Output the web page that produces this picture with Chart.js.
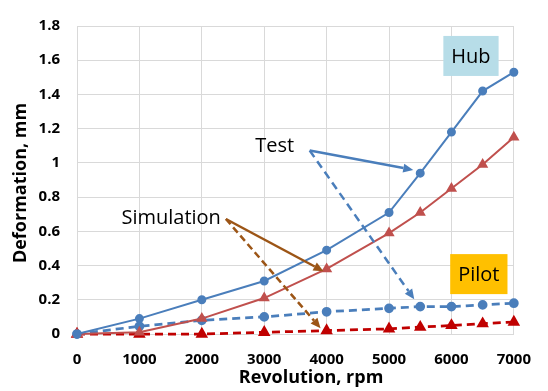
<!DOCTYPE html>
<html>
<head>
<meta charset="utf-8">
<script src="https://cdn.jsdelivr.net/npm/chart.js@4/dist/chart.umd.min.js"></script>
<style>
  body { margin: 0; background: #ffffff; }
  #myChart { display: block; }
</style>
</head>
<body>
<canvas id="myChart" width="548" height="391"></canvas>
<script>
// ********* DATA *********
const revolutions = [0, 1000, 2000, 3000, 4000, 5000, 5500, 6000, 6500, 7000];
const hubTest = [0, 0.09, 0.2, 0.31, 0.49, 0.71, 0.94, 1.18, 1.42, 1.53];
const hubSimulation = [0, 0.01, 0.09, 0.21, 0.38, 0.59, 0.71, 0.85, 0.99, 1.15];
const pilotTest = [0, 0.045, 0.08, 0.1, 0.13, 0.15, 0.16, 0.16, 0.17, 0.18];
const pilotSimulation = [0, 0, 0, 0.01, 0.02, 0.03, 0.04, 0.05, 0.06, 0.07];

const xTickLabels = ["0", "1000", "2000", "3000", "4000", "5000", "6000", "7000"];
const yTickLabels = ["0", "0.2", "0.4", "0.6", "0.8", "1", "1.2", "1.4", "1.6", "1.8"];

const xTitle = "Revolution, rpm";
const yTitle = "Deformation, mm";

// annotation anchors in data units (rpm, mm)
const labelTexts = [
  { text: "Test", x: 3168, y: 1.095 },
  { text: "Simulation", x: 1509, y: 0.677 },
];
const labelBoxes = [
  { text: "Hub", x: 6313, y: 1.625, fill: "#b7dde8" },
  { text: "Pilot", x: 6439, y: 0.35, fill: "#ffc000" },
];
const arrows = [
  { from: [3729, 1.072], to: [5388, 0.959], color: "#4a7ebb", dash: [] },
  { from: [3729, 1.072], to: [5404, 0.203], color: "#4a7ebb", dash: [8, 5] },
  { from: [2386, 0.672], to: [3950, 0.367], color: "#9c5516", dash: [] },
  { from: [2386, 0.672], to: [3903, 0.034], color: "#9c5516", dash: [7, 4] },
];

const toPoints = (values) => values.map((v, i) => ({ x: revolutions[i], y: v }));

const blue = "#4a7ebb";
const redLight = "#c0504d";
const redDark = "#c00000";
const gridColor = "#d9d9d9";
const fontFamily = "'Open Sans', 'DejaVu Sans', sans-serif";

// ********* ANNOTATIONS *********
const drawArrow = (ctx, x1, y1, x2, y2, color, dash) => {
  const angle = Math.atan2(y2 - y1, x2 - x1);
  const headLen = 10;
  const headHalf = 4.5;
  const bx = x2 - headLen * Math.cos(angle);
  const by = y2 - headLen * Math.sin(angle);
  ctx.save();
  ctx.strokeStyle = color;
  ctx.fillStyle = color;
  ctx.lineWidth = 2.5;
  ctx.setLineDash(dash);
  ctx.beginPath();
  ctx.moveTo(x1, y1);
  ctx.lineTo(bx, by);
  ctx.stroke();
  ctx.setLineDash([]);
  ctx.beginPath();
  ctx.moveTo(x2, y2);
  ctx.lineTo(bx + headHalf * Math.sin(angle), by - headHalf * Math.cos(angle));
  ctx.lineTo(bx - headHalf * Math.sin(angle), by + headHalf * Math.cos(angle));
  ctx.closePath();
  ctx.fill();
  ctx.restore();
};

const annotationPlugin = {
  id: "annotationPlugin",
  beforeDraw: (chart) => {
    const ctx = chart.ctx;
    ctx.save();
    ctx.fillStyle = "#ffffff";
    ctx.fillRect(0, 0, chart.width, chart.height);
    ctx.restore();
  },
  afterDraw: (chart) => {
    const ctx = chart.ctx;
    const xs = chart.scales.x;
    const ys = chart.scales.y;
    const area = chart.chartArea;

    arrows.forEach((a) => {
      drawArrow(
        ctx,
        xs.getPixelForValue(a.from[0]), ys.getPixelForValue(a.from[1]),
        xs.getPixelForValue(a.to[0]), ys.getPixelForValue(a.to[1]),
        a.color, a.dash
      );
    });

    ctx.save();
    ctx.font = "20px " + fontFamily;
    ctx.textAlign = "center";
    ctx.textBaseline = "middle";
    labelBoxes.forEach((b) => {
      const cx = xs.getPixelForValue(b.x);
      const cy = ys.getPixelForValue(b.y);
      const w = ctx.measureText(b.text).width + 16;
      ctx.fillStyle = b.fill;
      ctx.fillRect(cx - w / 2, cy - 20, w, 40);
      ctx.fillStyle = "#000000";
      ctx.fillText(b.text, cx, cy + 1);
    });
    labelTexts.forEach((t) => {
      ctx.fillStyle = "#000000";
      ctx.fillText(t.text, xs.getPixelForValue(t.x), ys.getPixelForValue(t.y));
    });

    // axis titles
    ctx.font = "bold 18px " + fontFamily;
    ctx.fillStyle = "#000000";
    ctx.fillText(xTitle, xs.getPixelForValue(3750), 378);
    ctx.translate(21, (area.top + area.bottom) / 2 + 3);
    ctx.rotate(-Math.PI / 2);
    ctx.fillText(yTitle, 0, 0);
    ctx.restore();
  },
};

// ********* CHART *********
const ctx = document.getElementById("myChart");

const myChartView = new Chart(ctx, {
  type: "line",
  data: {
    datasets: [
      {
        label: "Hub Test",
        data: toPoints(hubTest),
        borderColor: blue,
        backgroundColor: blue,
        borderWidth: 2,
        pointStyle: "circle",
        pointRadius: 3.5,
        clip: false,
      },
      {
        label: "Hub Simulation",
        data: toPoints(hubSimulation),
        borderColor: redLight,
        backgroundColor: redLight,
        borderWidth: 2,
        pointStyle: "triangle",
        pointRadius: 4.5,
        clip: false,
      },
      {
        label: "Pilot Test",
        data: toPoints(pilotTest),
        borderColor: blue,
        backgroundColor: blue,
        borderWidth: 2.75,
        borderDash: [8, 5],
        pointStyle: "circle",
        pointRadius: 3.5,
        clip: false,
      },
      {
        label: "Pilot Simulation",
        data: toPoints(pilotSimulation),
        borderColor: redDark,
        backgroundColor: redDark,
        borderWidth: 2.75,
        borderDash: [8, 5],
        pointStyle: "triangle",
        pointRadius: 4.5,
        clip: false,
      },
    ],
  },
  options: {
    responsive: false,
    animation: false,
    layout: {
      padding: { left: 0, top: 15, right: 28, bottom: 0 },
    },
    plugins: {
      legend: { display: false },
      tooltip: { enabled: false },
    },
    scales: {
      x: {
        type: "linear",
        min: 0,
        max: 7000,
        afterFit: (scale) => {
          scale.height = 57;
        },
        afterBuildTicks: (scale) => {
          scale.ticks = xTickLabels.map((l) => ({ value: Number(l) }));
        },
        ticks: {
          padding: 17,
          color: "#000000",
          font: { family: fontFamily, size: 15, weight: "bold" },
          maxRotation: 0,
          callback: (value) => xTickLabels.find((l) => Number(l) === value),
        },
        grid: { color: gridColor, drawTicks: false },
        border: { color: gridColor },
      },
      y: {
        min: 0,
        max: 1.8,
        afterFit: (scale) => {
          scale.width = 77;
        },
        afterBuildTicks: (scale) => {
          scale.ticks = yTickLabels.map((l) => ({ value: Number(l) }));
        },
        ticks: {
          padding: 17,
          color: "#000000",
          font: { family: fontFamily, size: 15, weight: "bold" },
          callback: (value) => yTickLabels.find((l) => Math.abs(Number(l) - value) < 1e-9),
        },
        grid: { color: gridColor, drawTicks: false },
        border: { color: gridColor },
      },
    },
  },
  plugins: [annotationPlugin],
});
</script>
</body>
</html>
